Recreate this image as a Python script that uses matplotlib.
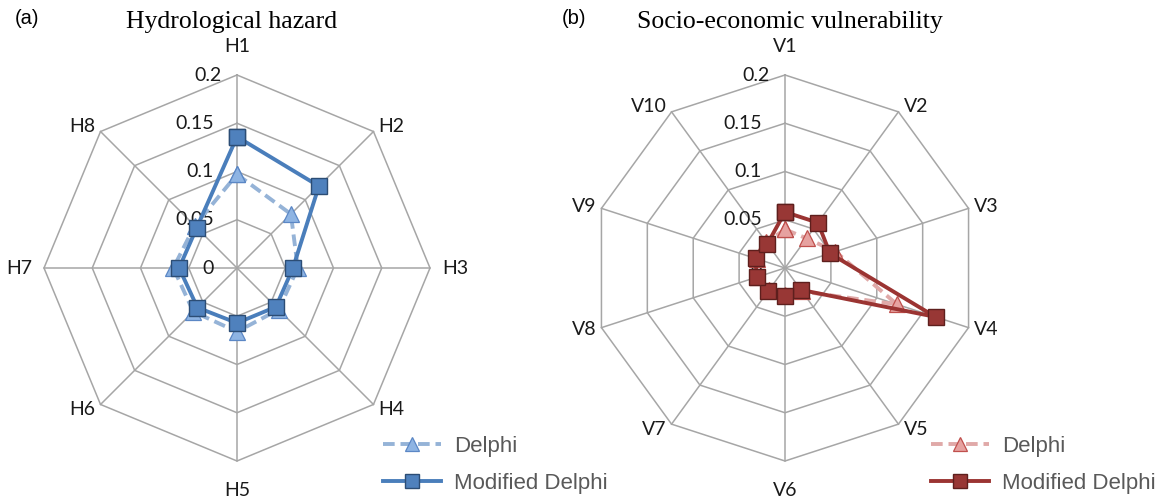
import matplotlib

matplotlib.use("Agg")
import matplotlib.pyplot as plt
import numpy as np


# 图像尺寸（像素），dpi=100
FIG_W = 1161
FIG_H = 498

# (a) 水文灾害指标权重
hazard_labels = ["H1", "H2", "H3", "H4", "H5", "H6", "H7", "H8"]
hazard_delphi = [0.097, 0.079, 0.063, 0.061, 0.066, 0.064, 0.066, 0.062]
hazard_modified = [0.136, 0.120, 0.058, 0.057, 0.057, 0.058, 0.060, 0.059]

# (b) 社会经济脆弱性指标权重
vuln_labels = ["V1", "V2", "V3", "V4", "V5", "V6", "V7", "V8", "V9", "V10"]
vuln_delphi = [0.040, 0.038, 0.055, 0.122, 0.030, 0.028, 0.028, 0.030, 0.030, 0.033]
vuln_modified = [0.058, 0.058, 0.049, 0.164, 0.028, 0.029, 0.030, 0.031, 0.032, 0.031]

# 径向刻度
radial_ticks = [0, 0.05, 0.1, 0.15, 0.2]

series_names = ["Delphi", "Modified Delphi"]

GRID_COLOR = "#a6a6a6"
TEXT_FONT = "Lato"

BLUE = {
    "delphi_line": "#95b3d7",
    "delphi_face": "#8eb4e3",
    "delphi_edge": "#5b87c5",
    "mod_line": "#4a7ebb",
    "mod_face": "#4f81bd",
    "mod_edge": "#2c4d75",
}

RED = {
    "delphi_line": "#e0a9a8",
    "delphi_face": "#e6a2a0",
    "delphi_edge": "#c0504d",
    "mod_line": "#9b3432",
    "mod_face": "#983735",
    "mod_edge": "#5e1f1d",
}


def px_box(left, top, size):
    """把像素位置（左、上、边长）转换成 figure 坐标。"""
    return [left / FIG_W, 1 - (top + size) / FIG_H, size / FIG_W, size / FIG_H]


def draw_radar(ax, labels, delphi, modified, colors):
    n = len(labels)
    angles = np.linspace(0, 2 * np.pi, n, endpoint=False)
    closed = np.append(angles, angles[0])
    r_max = radial_ticks[-1]

    ax.set_theta_zero_location("N")
    ax.set_theta_direction(-1)
    ax.set_ylim(0, r_max)
    ax.grid(False)
    ax.spines["polar"].set_visible(False)
    ax.set_xticks([])
    ax.set_yticks([])
    ax.patch.set_alpha(0)

    # 多边形网格
    for r in radial_ticks[1:]:
        ax.plot(closed, [r] * (n + 1), color=GRID_COLOR, lw=1.1,
                zorder=1, clip_on=False)
    for a in angles:
        ax.plot([a, a], [0, r_max], color=GRID_COLOR, lw=1.1,
                zorder=1, clip_on=False)

    # 径向刻度文字
    for v in radial_ticks:
        offset = -15 if v == r_max else -23
        ax.annotate(f"{v:g}", xy=(0, v), xytext=(offset, 0),
                    textcoords="offset pixels", ha="right", va="center",
                    fontsize=14, family=TEXT_FONT, color="#1a1a1a", zorder=2)

    # 指标名称
    for a, name in zip(angles, labels):
        s, c = np.sin(a), np.cos(a)
        if abs(s) < 0.01:
            dx, dy, ha = 0, 29 * np.sign(c), "center"
        elif abs(c) < 0.01:
            dx, dy, ha = 12 * np.sign(s), 0, ("left" if s > 0 else "right")
        else:
            dx, dy, ha = 5 * np.sign(s), 7 * c, ("left" if s > 0 else "right")
        ax.annotate(name, xy=(a, r_max), xytext=(dx, dy),
                    textcoords="offset pixels", ha=ha, va="center",
                    fontsize=14, family=TEXT_FONT, color="#1a1a1a")

    d_vals = np.append(delphi, delphi[0])
    m_vals = np.append(modified, modified[0])

    line_d, = ax.plot(closed, d_vals, color=colors["delphi_line"], lw=2.8,
                      linestyle=(0, (3, 1.5)), marker="^", markersize=12,
                      markerfacecolor=colors["delphi_face"],
                      markeredgecolor=colors["delphi_edge"], markeredgewidth=0.9,
                      zorder=3, clip_on=False)
    line_m, = ax.plot(closed, m_vals, color=colors["mod_line"], lw=2.8,
                      marker="s", markersize=12,
                      markerfacecolor=colors["mod_face"],
                      markeredgecolor=colors["mod_edge"], markeredgewidth=1.0,
                      zorder=4, clip_on=False)
    return line_d, line_m


def add_legend(fig, ax, handles, left_px, top_px):
    ax.legend(handles, series_names, loc="upper left",
              bbox_to_anchor=(left_px / FIG_W, 1 - top_px / FIG_H),
              bbox_transform=fig.transFigure, frameon=False,
              handlelength=2.6, handletextpad=0.6, labelspacing=0.72,
              borderpad=0, borderaxespad=0, markerscale=0.85,
              prop={"family": "Liberation Sans", "size": 16},
              labelcolor="#595959")


def main():
    fig = plt.figure(figsize=(FIG_W / 100, FIG_H / 100), dpi=100)

    ax_left = fig.add_axes(px_box(44, 75, 386), projection="polar")
    ax_right = fig.add_axes(px_box(592, 75, 386), projection="polar")

    handles_left = draw_radar(ax_left, hazard_labels, hazard_delphi,
                              hazard_modified, BLUE)
    handles_right = draw_radar(ax_right, vuln_labels, vuln_delphi,
                               vuln_modified, RED)

    add_legend(fig, ax_left, handles_left, 383, 436)
    add_legend(fig, ax_right, handles_right, 931, 436)

    # 标题和子图编号
    fig.text(232 / FIG_W, 1 - 22 / FIG_H, "Hydrological hazard", ha="center",
             va="center", fontsize=18.5, family="Liberation Serif")
    fig.text(790 / FIG_W, 1 - 22 / FIG_H, "Socio-economic vulnerability",
             ha="center", va="center", fontsize=18.5, family="Liberation Serif")
    fig.text(27 / FIG_W, 1 - 18 / FIG_H, "(a)", ha="center", va="center",
             fontsize=14.5, family="Liberation Sans")
    fig.text(574 / FIG_W, 1 - 18 / FIG_H, "(b)", ha="center", va="center",
             fontsize=14.5, family="Liberation Sans")

    fig.savefig("out.png", dpi=100)
    plt.close(fig)


if __name__ == "__main__":
    main()
